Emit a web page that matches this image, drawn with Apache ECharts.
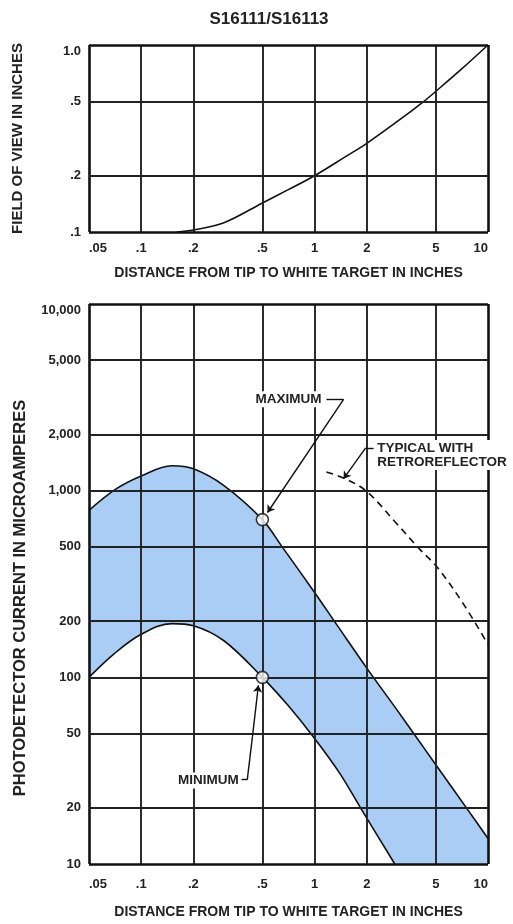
<!DOCTYPE html>
<html><head><meta charset="utf-8">
<script src="https://cdn.jsdelivr.net/npm/echarts@6/dist/echarts.min.js"></script>
<style>html,body{margin:0;padding:0;background:#fff}#c{width:513px;height:924px}</style>
</head><body><div id="c"></div>
<script>
const FONT = '"Liberation Sans", Arial, Helvetica, sans-serif';

// ---------- Top chart: field of view ----------
const fovDist = [0.16, 0.2, 0.3, 0.5, 0.7, 1, 1.5, 2, 3, 4.27, 5, 7, 10];
const fovView = [0.1, 0.1025, 0.112, 0.143, 0.168, 0.2, 0.252, 0.298, 0.39, 0.5, 0.565, 0.74, 1.0];
const distTicks = [0.05, 0.1, 0.2, 0.5, 1, 2, 5, 10];
const distTickLabels = ['.05', '.1', '.2', '.5', '1', '2', '5', '10'];
const fovTicks = [0.1, 0.2, 0.5, 1];
const fovTickLabels = ['.1', '.2', '.5', '1.0'];

// ---------- Bottom chart: photodetector current ----------
const maxDist = [0.05, 0.072, 0.1, 0.15, 0.2, 0.3, 0.5, 0.65, 1, 1.36, 2, 3, 3.73, 5, 7.65, 10];
const maxCurrent = [785, 1025, 1200, 1360, 1310, 1065, 700, 500, 285, 188, 112, 66.5, 50, 34, 19.5, 13.7];
const minDist = [0.05, 0.07, 0.1, 0.15, 0.2, 0.3, 0.5, 0.7, 1, 1.4, 1.84, 2.9];
const minCurrent = [100, 134, 170, 194, 189, 157, 100, 71, 47, 30.5, 20, 10];
const retroDist = [1.17, 1.5, 2, 3, 4, 5.14, 7.26, 10];
const retroCurrent = [1260, 1160, 990, 660, 490, 385, 245, 150];
const curTicks = [10, 20, 50, 100, 200, 500, 1000, 2000, 5000, 10000];
const curTickLabels = ['10', '20', '50', '100', '200', '500', '1,000', '2,000', '5,000', '10,000'];
const markerDist = [0.5, 0.5];
const markerCurrent = [700, 100];

const zip = (a, b) => a.map((v, i) => [v, b[i]]);

function gridLines(xT, xL, yT, yL, xDist) {
  const d = [];
  xT.forEach((v, i) => {
    const edge = i === 0 || i === xT.length - 1;
    const it = { xAxis: v, name: xL[i], label: { distance: xDist } };
    if (edge) it.lineStyle = { width: 2.6, color: '#111' };
    if (i === 0) it.label.align = 'left';
    if (i === xT.length - 1) it.label.align = 'right';
    d.push(it);
  });
  yT.forEach((v, i) => {
    const edge = i === 0 || i === yT.length - 1;
    const it = { yAxis: v, name: yL[i] };
    if (edge) it.lineStyle = { width: 2.6, color: '#111' };
    if (i === yT.length - 1) it.label = { verticalAlign: 'top' };
    d.push(it);
  });
  return {
    silent: true, animation: false, symbol: ['none', 'none'],
    lineStyle: { color: '#222', width: 1.9, type: 'solid' },
    label: { show: true, position: 'start', distance: 8, formatter: p => p.name,
      color: '#222', fontWeight: 'bold', fontSize: 13, fontFamily: FONT },
    emphasis: { disabled: true },
    data: d
  };
}

const axisCommon = {
  type: 'log', logBase: 10,
  axisLine: { show: false }, axisTick: { show: false }, axisLabel: { show: false }, splitLine: { show: false },
  nameLocation: 'middle',
  nameTextStyle: { color: '#222', fontWeight: 'bold', fontSize: 14, fontFamily: FONT }
};

const curveCommon = { symbol: 'none', smooth: 0.35 };

const option = {
  animation: false,
  backgroundColor: '#fff',
  title: { text: 'S16111/S16113', left: 264, top: 6, textAlign: 'center',
    textStyle: { color: '#222', fontWeight: 'bold', fontSize: 17, fontFamily: FONT } },
  grid: [
    { left: 89, top: 45, width: 399, height: 187 },
    { left: 89, top: 304, width: 399, height: 564 }
  ],
  xAxis: [
    Object.assign({}, axisCommon, { gridIndex: 0, min: 0.05, max: 10, name: 'DISTANCE FROM TIP TO WHITE TARGET IN INCHES', nameGap: 34 }),
    Object.assign({}, axisCommon, { gridIndex: 1, min: 0.05, max: 10, name: 'DISTANCE FROM TIP TO WHITE TARGET IN INCHES', nameGap: 41 })
  ],
  yAxis: [
    Object.assign({}, axisCommon, { gridIndex: 0, min: 0.1, max: 1, name: 'FIELD OF VIEW IN INCHES', nameGap: 64,
      nameTextStyle: Object.assign({}, axisCommon.nameTextStyle, { fontSize: 15 }) }),
    Object.assign({}, axisCommon, { gridIndex: 1, min: 10, max: 10000, name: 'PHOTODETECTOR CURRENT IN MICROAMPERES', nameGap: 60,
      nameTextStyle: Object.assign({}, axisCommon.nameTextStyle, { fontSize: 16.5, padding: [0, 28, 0, 0] }) })
  ],
  series: [
    Object.assign({
      type: 'line', xAxisIndex: 0, yAxisIndex: 0, data: zip(fovDist, fovView), z: 3,
      lineStyle: { color: '#111', width: 1.6 },
      markLine: gridLines(distTicks, distTickLabels, fovTicks, fovTickLabels, 10)
    }, curveCommon),
    Object.assign({
      name: 'MAXIMUM', type: 'line', xAxisIndex: 1, yAxisIndex: 1, data: zip(maxDist, maxCurrent), z: 2,
      lineStyle: { color: '#111', width: 1.6 },
      areaStyle: { color: '#a9cdf4', opacity: 1, origin: 'start' }
    }, curveCommon),
    Object.assign({
      name: 'MINIMUM', type: 'line', xAxisIndex: 1, yAxisIndex: 1, data: zip(minDist, minCurrent), z: 3,
      lineStyle: { color: '#111', width: 1.6 },
      areaStyle: { color: '#ffffff', opacity: 1, origin: 'start' }
    }, curveCommon),
    Object.assign({
      name: 'TYPICAL WITH RETROREFLECTOR', type: 'line', xAxisIndex: 1, yAxisIndex: 1, data: zip(retroDist, retroCurrent), z: 4,
      lineStyle: { color: '#111', width: 1.6, type: [7, 5] },
      markLine: gridLines(distTicks, distTickLabels, curTicks, curTickLabels, 14)
    }, curveCommon),
    {
      type: 'scatter', xAxisIndex: 1, yAxisIndex: 1, data: zip(markerDist, markerCurrent),
      symbol: 'circle', symbolSize: 12, z: 10,
      itemStyle: { color: '#fff', borderColor: '#111', borderWidth: 1.6 },
      markPoint: {
        silent: true, animation: false, symbol: 'rect', symbolSize: 1,
        itemStyle: { color: 'rgba(0,0,0,0)' },
        label: { show: true, position: 'inside', formatter: p => p.name, color: '#222', fontWeight: 'bold',
          fontSize: 13.5, fontFamily: FONT, backgroundColor: '#fff', padding: [1, 1], lineHeight: 14 },
        data: [
          { name: 'MAXIMUM', coord: [0.706, 3084] },
          { name: 'MINIMUM', coord: [0.244, 28] },
          { name: 'TYPICAL WITH\nRETROREFLECTOR', coord: [2.25, 1553], label: { position: 'right', distance: 0 } }
        ]
      },
      markLine: {
        silent: true, animation: false, symbol: ['none', 'none'], symbolSize: 7,
        lineStyle: { color: '#111', width: 1.4, type: 'solid' },
        label: { show: false },
        data: [
          [{ coord: [1.17, 3084] }, { coord: [1.47, 3084] }],
          [{ coord: [1.47, 3084] }, { coord: [0.535, 764], symbol: 'arrow' }],
          [{ coord: [0.379, 28.3] }, { coord: [0.409, 28.3] }],
          [{ coord: [0.409, 28.3] }, { coord: [0.438, 48] }],
          [{ coord: [0.438, 48] }, { coord: [0.474, 90.6], symbol: 'arrow' }],
          [{ coord: [2.19, 1695] }, { coord: [1.97, 1695] }],
          [{ coord: [1.97, 1695] }, { coord: [1.47, 1159], symbol: 'arrow' }]
        ]
      }
    }
  ]
};

const chart = echarts.init(document.getElementById('c'), null, { renderer: 'canvas' });
chart.setOption(option);
</script>
</body></html>
